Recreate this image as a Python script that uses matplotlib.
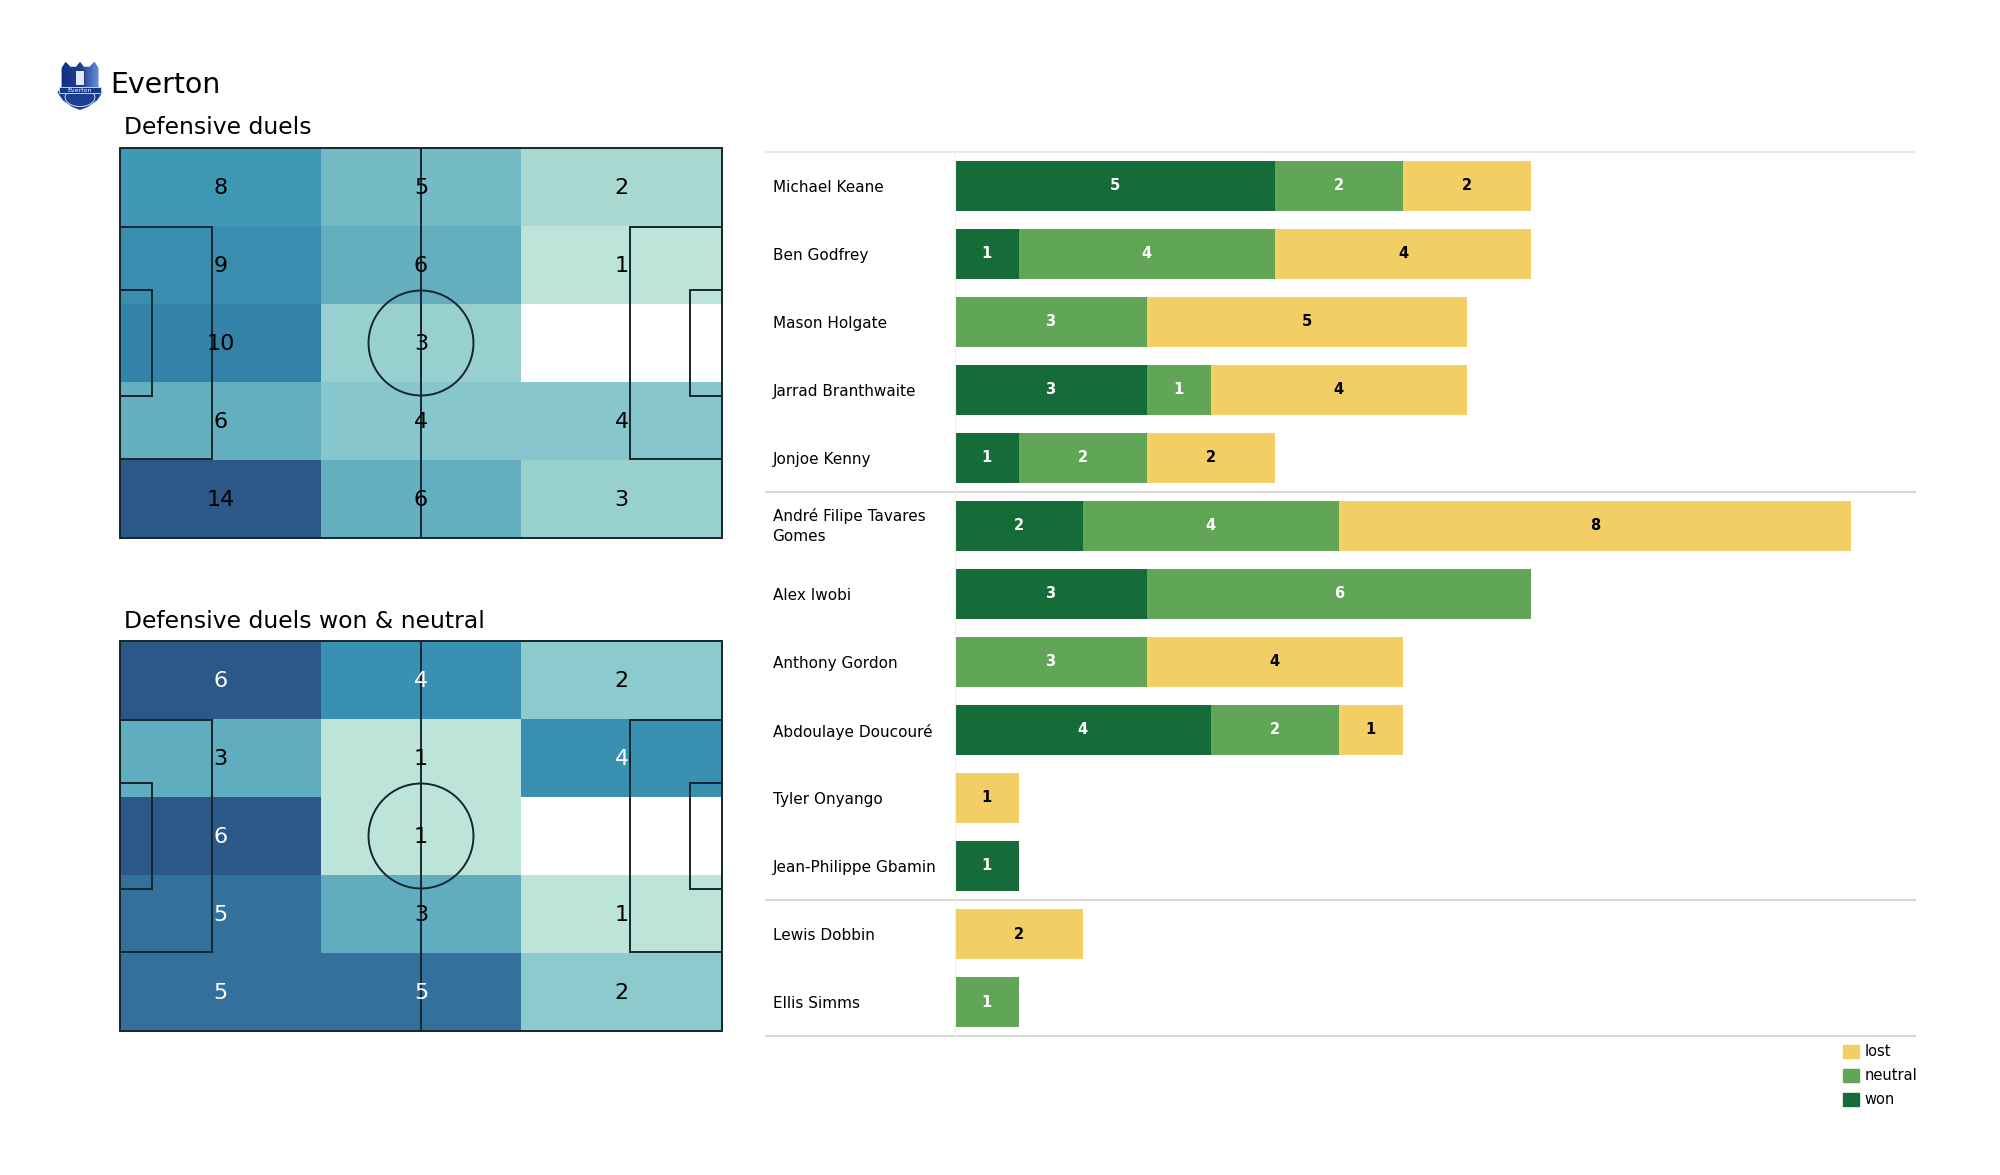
import numpy as np
import matplotlib
matplotlib.use("Agg")
import matplotlib.pyplot as plt
from matplotlib.colors import LinearSegmentedColormap, Normalize
from matplotlib.patches import Rectangle, Circle, Polygon, Ellipse, Patch

W, H = 2000, 1175

# pitch zones, top row first
duels = [[8, 5, 2], [9, 6, 1], [10, 3, 0], [6, 4, 4], [14, 6, 3]]
duels_won_neutral = [[6, 4, 2], [3, 1, 4], [6, 1, 0], [5, 3, 1], [5, 5, 2]]

players = ["Michael Keane", "Ben Godfrey", "Mason Holgate", "Jarrad Branthwaite",
           "Jonjoe Kenny", "André Filipe Tavares\nGomes", "Alex Iwobi", "Anthony Gordon",
           "Abdoulaye Doucouré", "Tyler Onyango", "Jean-Philippe Gbamin", "Lewis Dobbin",
           "Ellis Simms"]
won = [5, 1, 0, 3, 1, 2, 3, 0, 4, 0, 1, 0, 0]
neutral = [2, 4, 3, 1, 2, 4, 6, 3, 2, 0, 0, 0, 1]
lost = [2, 4, 5, 4, 2, 8, 0, 4, 1, 1, 0, 2, 0]

GREEN_DARK = "#156c38"
GREEN = "#61a656"
YELLOW = "#f2ce65"
LINE = "#16262e"

heat = LinearSegmentedColormap.from_list("heat", [
    (0.0, "#bde4d8"), (0.077, "#a9d9d2"), (0.154, "#98d0cf"), (0.23, "#86c6cc"),
    (0.385, "#63afc0"), (0.54, "#3f98b7"), (0.69, "#3384a8"), (0.8, "#33709b"), (1.0, "#2b5886")])


def px_axes(fig, left, top, right, bottom, **kw):
    return fig.add_axes([left / W, 1 - bottom / H, (right - left) / W, (bottom - top) / H], **kw)


def draw_pitch(ax, zones, white_from=None):
    values = np.array(zones, dtype=float)
    ax.pcolormesh(np.linspace(0, 105, 4), np.linspace(0, 68, 6), np.ma.masked_equal(values, 0),
                  cmap=heat, norm=Normalize(1, values.max()), antialiased=False)
    for r, row in enumerate(zones):
        for c, v in enumerate(row):
            if v == 0:
                continue
            col = "white" if white_from is not None and v >= white_from else "black"
            ax.text(17.5 + 35 * c, 6.95 + 13.6 * r, str(v), ha="center", va="center",
                    fontsize=16, color=col)

    lw = 1.4
    style = dict(fill=False, ec=LINE, lw=lw)
    ax.add_patch(Rectangle((0, 0), 105, 68, clip_on=False, **style))
    ax.add_patch(Rectangle((0, 13.84), 16, 40.32, **style))
    ax.add_patch(Rectangle((89, 13.84), 16, 40.32, **style))
    ax.add_patch(Rectangle((0, 24.84), 5.5, 18.32, **style))
    ax.add_patch(Rectangle((99.5, 24.84), 5.5, 18.32, **style))
    ax.add_patch(Circle((52.5, 34), 9.15, **style))
    ax.plot([52.5, 52.5], [0, 68], color=LINE, lw=lw)
    ax.set_xlim(0, 105)
    ax.set_ylim(68, 0)
    ax.axis("off")


def draw_crest(ax):
    shield = Polygon([(0.12, 0.86), (0.2, 0.98), (0.3, 0.88), (0.42, 0.88), (0.5, 0.98), (0.58, 0.88),
                      (0.7, 0.88), (0.8, 0.98), (0.88, 0.86), (0.88, 0.48), (0.97, 0.36), (0.86, 0.2),
                      (0.66, 0.06), (0.5, 0.0), (0.34, 0.06), (0.14, 0.2), (0.03, 0.36), (0.12, 0.48)],
                     closed=True, fc="#1c3f94", ec="none", zorder=1)
    ax.add_patch(shield)
    grad = np.linspace(0, 1, 50).reshape(1, -1)
    cm = LinearSegmentedColormap.from_list("crest", ["#14307f", "#1c3f94", "#6f9ae0"])
    im = ax.imshow(grad, extent=(0.1, 0.92, 0.4, 1.0), cmap=cm, aspect="auto", zorder=2)
    im.set_clip_path(shield)
    ax.add_patch(Rectangle((0.4, 0.52), 0.18, 0.3, fc="#dfe8f5", ec="#14296f", lw=0.6, zorder=3))
    ax.add_patch(Ellipse((0.5, 0.26), 0.62, 0.38, fc="none", ec="#c8d6ee", lw=0.7, zorder=3))
    ax.add_patch(Rectangle((0.06, 0.34), 0.88, 0.12, fc="#173788", ec="#dfe8f5", lw=0.6, zorder=4))
    ax.text(0.5, 0.395, "Everton", color="white", fontsize=4.5, ha="center", va="center", zorder=5)
    ax.set_xlim(0, 1)
    ax.set_ylim(0, 1)
    ax.axis("off")


fig = plt.figure(figsize=(20, 11.75), dpi=100, facecolor="white")

draw_crest(px_axes(fig, 56, 61, 104, 110))
fig.text(110 / W, 1 - 85 / H, "Everton", fontsize=20.4, va="center", ha="left")
fig.text(124 / W, 1 - 127 / H, "Defensive duels", fontsize=16.9, va="center", ha="left")
fig.text(124 / W, 1 - 621 / H, "Defensive duels won & neutral", fontsize=16.9, va="center", ha="left")

draw_pitch(px_axes(fig, 120, 148, 722, 538), duels)
draw_pitch(px_axes(fig, 120, 641, 722, 1031), duels_won_neutral, white_from=4)

# stacked bars
ax = px_axes(fig, 954.5, 152, 1915.5, 1036)
y = np.arange(len(players))
left = np.zeros(len(players))
for vals, colour, txt in [(won, GREEN_DARK, "white"), (neutral, GREEN, "white"), (lost, YELLOW, "black")]:
    bars = ax.barh(y, vals, left=left, height=0.74, color=colour)
    ax.bar_label(bars, labels=[str(v) if v else "" for v in vals], label_type="center",
                 color=txt, fontsize=10.5, fontweight="bold")
    left += np.array(vals)

ax.set_xlim(0, 15)
ax.set_ylim(len(players) - 0.5, -0.5)
ax.set_xticks([])
ax.set_yticks(y)
ax.set_yticklabels(players, ha="left", fontsize=11, linespacing=1.37)
ax.tick_params(axis="y", length=0, pad=131)
for label in ax.get_yticklabels():
    if "\n" in label.get_text():
        label.set_va("center")
for side in ["top", "right", "bottom"]:
    ax.spines[side].set_visible(False)
ax.spines["left"].set_color("#f0f0f0")
ax.spines["left"].set_linewidth(0.8)

line_left = (765 - 955) / (1916 - 955)
ax.hlines([-0.5], line_left, 1, transform=ax.get_yaxis_transform(), color="#e6e6e6", lw=1.2, clip_on=False)
ax.hlines([4.5, 10.5, 12.5], line_left, 1, transform=ax.get_yaxis_transform(), color="#d8d8d8", lw=1.5, clip_on=False)

handles = [Patch(color=YELLOW, label="lost"), Patch(color=GREEN, label="neutral"),
           Patch(color=GREEN_DARK, label="won")]
ax.legend(handles=handles, loc="upper right", bbox_to_anchor=(1.002, -0.0095), frameon=False, fontsize=10.5,
          handlelength=1.08, handleheight=1.08, handletextpad=0.42, labelspacing=0.62,
          borderpad=0, borderaxespad=0)

fig.savefig("out.png", dpi=100, facecolor="white")
